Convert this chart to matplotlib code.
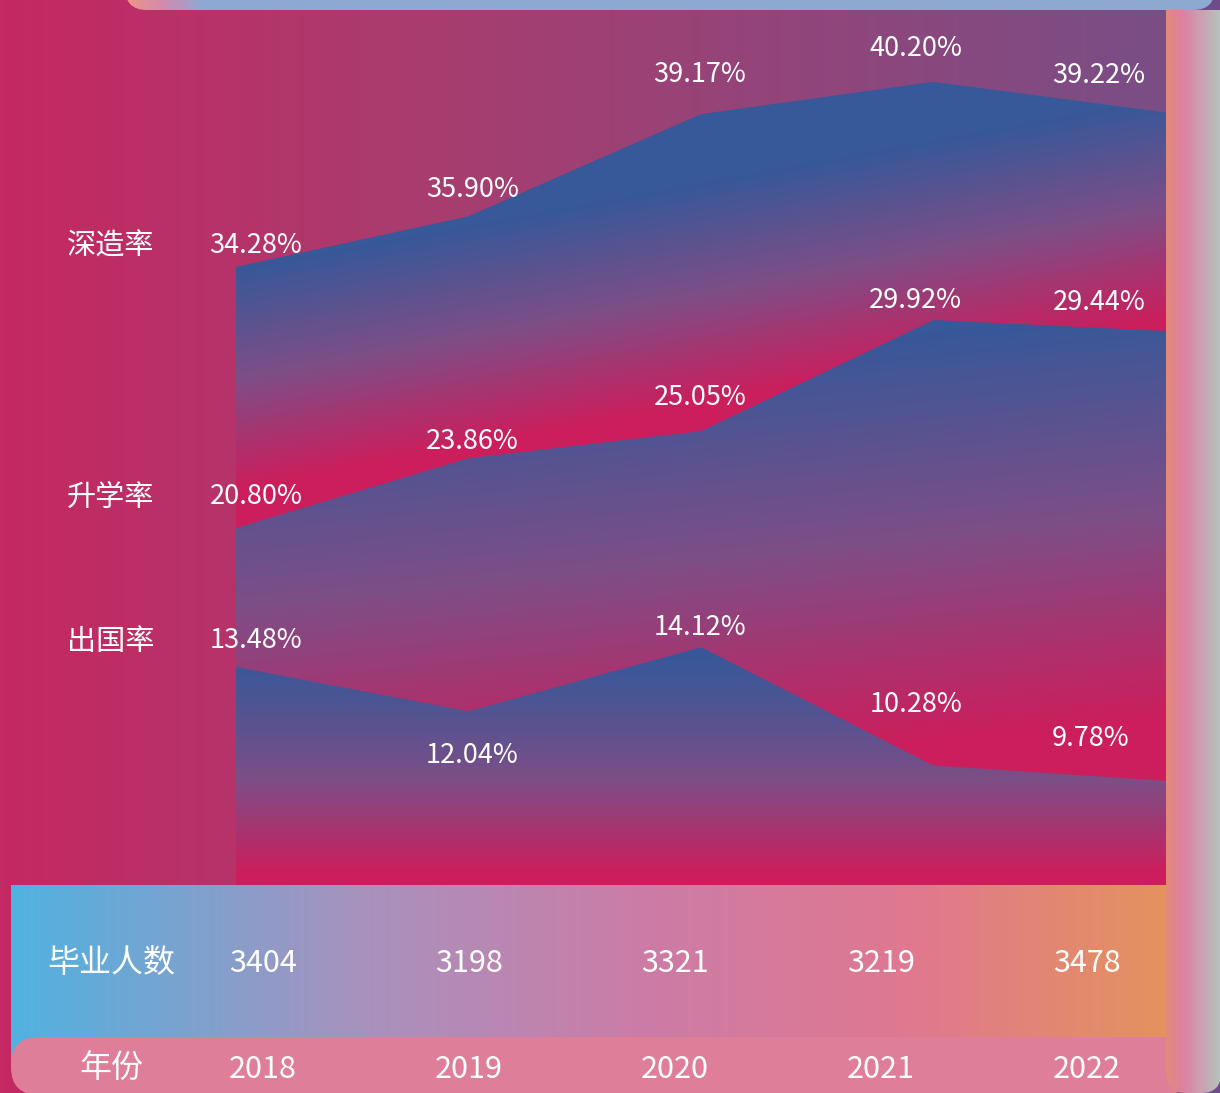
import numpy as np
import matplotlib.pyplot as plt
from matplotlib.colors import LinearSegmentedColormap
from matplotlib.patches import FancyBboxPatch

plt.rcParams['font.family'] = ['Noto Sans CJK SC', 'DejaVu Sans']

# data
years = ['2018', '2019', '2020', '2021', '2022']
graduates = [3404, 3198, 3321, 3219, 3478]
series_names = ['深造率', '升学率', '出国率']
further_rate = [34.28, 35.90, 39.17, 40.20, 39.22]   # 深造率
enroll_rate = [20.80, 23.86, 25.05, 29.92, 29.44]    # 升学率
abroad_rate = [13.48, 12.04, 14.12, 10.28, 9.78]     # 出国率
series_values = [further_rate, enroll_rate, abroad_rate]

# layout (pixels)
W, H = 1220, 1093
chart_left, chart_right, chart_bottom = 236, 1166, 885
# every series has its own y scale
ylims = [(14.50, 42.82), (5.14, 43.96), (6.40, 35.14)]
# label offsets from the data point (pixels)
label_offsets = [
    [(20, 21), (4, 27), (-1, 40), (-18, 33), (-67, 37)],
    [(20, 31), (4, 17), (-1, 34), (-18, 20), (-67, 29)],
    [(20, 26), (4, -44), (-1, 20), (-18, 61), (-75, 42)],
]

fig = plt.figure(figsize=(W / 100, H / 100), dpi=100)

# background canvas in pixel coords
bg = fig.add_axes([0, 0, 1, 1])
bg.set_xlim(0, W)
bg.set_ylim(H, 0)
bg.axis('off')

bg_cmap = LinearSegmentedColormap.from_list(
    'bg', [(0, '#C52862'), (0.33, '#AA3C6E'), (0.956, '#7A4E86'), (1, '#6E4C8A')])
bg.imshow(np.linspace(0, 1, W)[None, :], cmap=bg_cmap, extent=(0, W, H, 0),
          aspect='auto', zorder=0)

# top bar (bottom of the element above)
top_cmap = LinearSegmentedColormap.from_list(
    'top', [(0, '#EC9488'), (0.03, '#D48AAE'), (0.07, '#8DAAD3'), (1, '#8FA9CF')])
top_bar = FancyBboxPatch((125, -40), 1090, 50, boxstyle='round,pad=0,rounding_size=22',
                         facecolor='none', edgecolor='none')
bg.add_patch(top_bar)
im = bg.imshow(np.linspace(0, 1, 300)[None, :], cmap=top_cmap, extent=(125, 1215, 10, -40),
               aspect='auto', zorder=2)
im.set_clip_path(top_bar)

# right strip
right_cmap = LinearSegmentedColormap.from_list(
    'right', [(0, '#E38A7A'), (0.3, '#DD80A0'), (0.6, '#CE9CB0'), (1, '#B6C4BE')])
right_strip = FancyBboxPatch((1166, -30), 55, 1123, boxstyle='round,pad=0,rounding_size=20',
                             facecolor='none', edgecolor='none')
bg.add_patch(right_strip)
im = bg.imshow(np.linspace(0, 1, 100)[None, :], cmap=right_cmap, extent=(1166, 1221, 1093, 10),
               aspect='auto', zorder=1.8)
im.set_clip_path(right_strip)

# table rows
row_cmap = LinearSegmentedColormap.from_list(
    'row', [(0, '#50B2E0'), (0.3, '#A892BE'), (0.55, '#CC7CA6'), (0.78, '#E07890'), (1, '#E5925E')])
bg.imshow(np.linspace(0, 1, 500)[None, :], cmap=row_cmap, extent=(11, chart_right, 1067, chart_bottom),
          aspect='auto', zorder=1)
pill = FancyBboxPatch((11, 1037), 1180, 58, boxstyle='round,pad=0,rounding_size=28',
                      facecolor='#DF7E98', edgecolor='none', zorder=1.5)
bg.add_patch(pill)

col_x = [263 + 206 * i for i in range(len(years))]
bg.text(111, 963, '毕业人数', color='white', fontsize=23, ha='center', va='center', weight='light')
bg.text(111, 1069, '年份', color='white', fontsize=23, ha='center', va='center', weight='light')
for cx, n, y in zip(col_x, graduates, years):
    bg.text(cx, 963, str(n), color='white', fontsize=22, ha='center', va='center', weight='light')
    bg.text(cx, 1069, y, color='white', fontsize=22, ha='center', va='center', weight='light')

# area bands with gradient fill
band_cmap = LinearSegmentedColormap.from_list('band', ['#375899', '#7D4E87', '#CC1E5C'])
cw, ch = chart_right - chart_left, chart_bottom
X, Y = np.meshgrid(np.arange(cw) + 0.5, np.arange(ch) + 0.5)
t_maps = [
    (Y - (267 - 0.183 * X)) / 223,
    (Y - (401 - 0.1 * X)) / 410,
    np.clip((Y - 647) / 225, 0, 1) ** 1.3,
]

rect = [chart_left / W, (H - chart_bottom) / H, cw / W, ch / H]
x = np.arange(len(years))
for k, (name, vals) in enumerate(zip(series_names, series_values)):
    lo, hi = ylims[k]
    ax = fig.add_axes(rect, label=name)
    ax.patch.set_visible(False)
    ax.axis('off')
    poly = ax.fill_between(x, vals, lo, facecolor='none', edgecolor='none')
    im = ax.imshow(np.clip(t_maps[k], 0, 1), cmap=band_cmap, vmin=0, vmax=1,
                   extent=(0, len(years) - 1, lo, hi), origin='upper', aspect='auto',
                   interpolation='bilinear')
    im.set_clip_path(poly.get_paths()[0], transform=ax.transData)
    ax.set_xlim(0, len(years) - 1)
    ax.set_ylim(lo, hi)

    for i, v in enumerate(vals):
        dx, dy = label_offsets[k][i]
        ax.annotate(f'{v:.2f}%', xy=(i, v), xytext=(dx, dy), textcoords='offset pixels',
                    ha='center', va='center', color='white', fontsize=19.5,
                    weight='medium', annotation_clip=False)
    # series name on the left, level with the first label
    ax.annotate(name, xy=(0, vals[0]), xytext=(111 - chart_left, label_offsets[k][0][1] - 1),
                textcoords='offset pixels', ha='center', va='center', color='white',
                fontsize=21, weight='medium', annotation_clip=False)

fig.savefig('out.png', dpi=100)
